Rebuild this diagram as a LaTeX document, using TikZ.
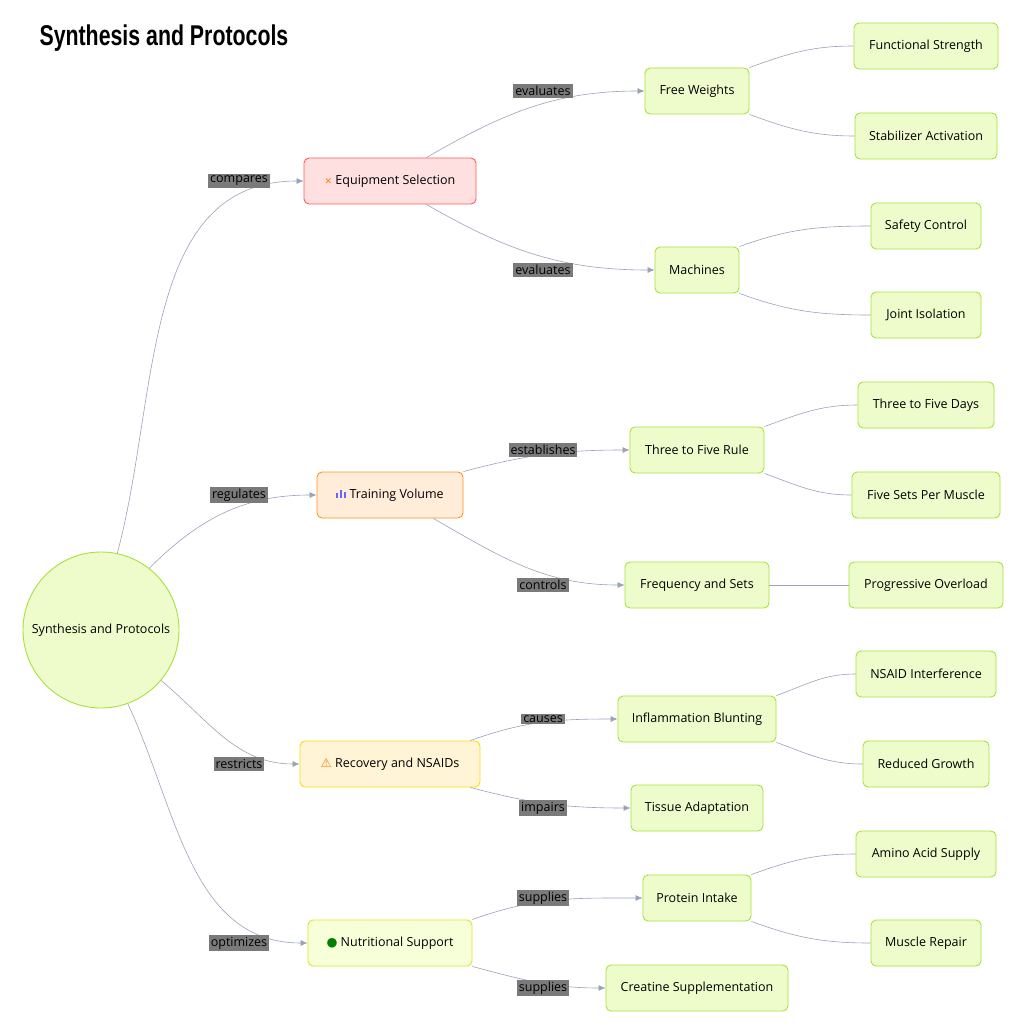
\documentclass[tikz,border=0pt]{standalone}
\usepackage{fontspec}
\setmainfont{Open Sans}
\newfontfamily\symfont{DejaVu Sans}
\newfontfamily\titlefont{Liberation Sans}
\usetikzlibrary{positioning, arrows.meta}

\definecolor{edgegray}{HTML}{98A2B8}
\definecolor{lblgray}{HTML}{7A7A7A}
\definecolor{leaffill}{HTML}{EEFCCC}
\definecolor{leafline}{HTML}{A6E23A}
\definecolor{recovfill}{HTML}{FFF4D6}
\definecolor{nutrifill}{HTML}{F7FFD9}

\tikzset{
  box/.style={draw, rounded corners=5pt, line width=0.9pt, minimum height=46pt, inner xsep=6pt, font=\fontsize{12.5}{15}\selectfont},
  leaf/.style={box, fill=leaffill, draw=leafline},
  lbl/.style={fill=lblgray, inner sep=2pt, font=\fontsize{12.5}{15}\selectfont},
  link/.style={draw=edgegray, line width=0.6pt},
  arr/.style={link, -{Latex[length=7pt,width=6pt]}}
}

\begin{document}
\begin{tikzpicture}[x=1pt, y=-1pt]
        \useasboundingbox (0,0) rectangle (1024,1024);
        \node[anchor=west, font=\titlefont\bfseries\fontsize{26}{30}\selectfont] (title) at (36,38) {\scalebox{0.82}[1.1]{Synthesis and Protocols}};

        \node[circle, draw=leafline, fill=leaffill, line width=0.9pt, minimum size=156pt, inner sep=0pt, font=\fontsize{12.5}{15}\selectfont] (root) at (101,630) {Synthesis and Protocols};

        \node[box, fill=red!12, draw=red!65, minimum width=172pt] (equip) at (390,181) {{\symfont\color{orange}\small ✕}\ Equipment Selection};
        \node[box, fill=orange!15, draw=orange!85, minimum width=146pt] (volume) at (390,495) {{\color{blue!60}\rule{2pt}{5pt}\,\rule{2pt}{8pt}\,\rule{2pt}{6pt}}\ Training Volume};
        \node[box, fill=recovfill, draw=yellow!80!orange, minimum width=180pt] (recov) at (390,764) {{\symfont\color{orange}⚠}\ Recovery and NSAIDs};
        \node[box, fill=nutrifill, draw=yellow!60!leafline, minimum width=164pt] (nutri) at (390,943) {{\symfont\color{green!50!black}●}\ Nutritional Support};

        \node[leaf, minimum width=104pt] (free) at (697,91) {Free Weights};
        \node[leaf, minimum width=84pt] (mach) at (697,270) {Machines};
        \node[leaf, minimum width=134pt] (rule) at (697,450) {Three to Five Rule};
        \node[leaf, minimum width=144pt] (freq) at (697,585) {Frequency and Sets};
        \node[leaf, minimum width=158pt] (infl) at (697,719) {Inflammation Blunting};
        \node[leaf, minimum width=132pt] (tiss) at (697,808) {Tissue Adaptation};
        \node[leaf, minimum width=108pt] (prot) at (697,898) {Protein Intake};
        \node[leaf, minimum width=182pt] (crea) at (697,988) {Creatine Supplementation};

        \node[leaf, minimum width=144pt] (func) at (926,46) {Functional Strength};
        \node[leaf, minimum width=142pt] (stab) at (926,136) {Stabilizer Activation};
        \node[leaf, minimum width=110pt] (safe) at (926,226) {Safety Control};
        \node[leaf, minimum width=110pt] (joint) at (926,315) {Joint Isolation};
        \node[leaf, minimum width=136pt] (days) at (926,405) {Three to Five Days};
        \node[leaf, minimum width=148pt] (sets) at (926,495) {Five Sets Per Muscle};
        \node[leaf, minimum width=154pt] (prog) at (926,585) {Progressive Overload};
        \node[leaf, minimum width=140pt] (nsaid) at (926,674) {NSAID Interference};
        \node[leaf, minimum width=126pt] (growth) at (926,764) {Reduced Growth};
        \node[leaf, minimum width=140pt] (amino) at (926,854) {Amino Acid Supply};
        \node[leaf, minimum width=110pt] (repair) at (926,943) {Muscle Repair};

        % root to categories
        \draw[arr] (root.78) to[out=75, in=180] (equip.west);
        \draw[arr] (root.52) to[out=45, in=180] (volume.west);
        \draw[arr] (root.-40) to[out=-40, in=180] (recov.west);
        \draw[arr] (root.-70) to[out=-65, in=180] (nutri.west);

        % categories to second level
        \draw[arr] (equip.north east) ++(-50,0) to[out=30, in=180] (free.west);
        \draw[arr] (equip.south east) ++(-50,0) to[out=-30, in=180] (mach.west);
        \draw[arr] (volume.north east) to[out=15, in=180] (rule.west);
        \draw[arr] (volume.south east) ++(-30,0) to[out=-30, in=180] (freq.west);
        \draw[arr] (recov.north east) ++(-10,0) to[out=20, in=180] (infl.west);
        \draw[arr] (recov.south east) ++(-10,0) to[out=-15, in=180] (tiss.west);
        \draw[arr] (nutri.north east) to[out=20, in=180] (prot.west);
        \draw[arr] (nutri.south east) to[out=-15, in=180] (crea.west);

        % second level to leaves
        \draw[link] (free.north east) to[out=20, in=180] (func.west);
        \draw[link] (free.south east) to[out=-20, in=180] (stab.west);
        \draw[link] (mach.north east) to[out=20, in=180] (safe.west);
        \draw[link] (mach.south east) to[out=-20, in=180] (joint.west);
        \draw[link] (rule.north east) to[out=20, in=180] (days.west);
        \draw[link] (rule.south east) to[out=-20, in=180] (sets.west);
        \draw[link] (freq.east) -- (prog.west);
        \draw[link] (infl.north east) to[out=20, in=180] (nsaid.west);
        \draw[link] (infl.south east) to[out=-20, in=180] (growth.west);
        \draw[link] (prot.north east) to[out=20, in=180] (amino.west);
        \draw[link] (prot.south east) to[out=-20, in=180] (repair.west);

        % edge labels
        \node[lbl] (l1) at (239,181) {compares};
        \node[lbl] (l2) at (239,495) {regulates};
        \node[lbl] (l3) at (239,764) {restricts};
        \node[lbl] (l4) at (239,943) {optimizes};
        \node[lbl] (l5) at (543,91) {evaluates};
        \node[lbl] (l6) at (543,270) {evaluates};
        \node[lbl] (l7) at (543,450) {establishes};
        \node[lbl] (l8) at (543,585) {controls};
        \node[lbl] (l9) at (543,719) {causes};
        \node[lbl] (l10) at (543,808) {impairs};
        \node[lbl] (l11) at (543,898) {supplies};
        \node[lbl] (l12) at (543,988) {supplies};
\end{tikzpicture}
\end{document}
